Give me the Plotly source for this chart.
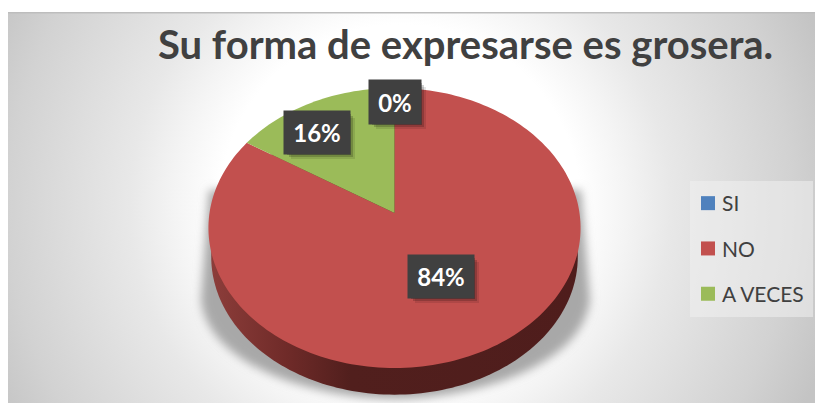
import base64
import numpy as np
import plotly.graph_objects as go

categories = ["SI", "NO", "A VECES"]
values = [0, 84, 16]
colors = ["#4F81BD", "#C2504E", "#9BBB59"]
title_text = "Su forma de expresarse es grosera."

W, H = 815, 403
CX, CY = 394.5, 213
K, A, C = 0.107, 138.4, 185
DEPTH = 29


def project(theta, r=1.0, scale=1.0, dy=0.0):
    u, v = r * np.sin(theta), r * np.cos(theta)
    d = 1 + K * v
    return CX + scale * C * u / d, CY - scale * A * v / d + dy


bg_svg = f'''<svg xmlns="http://www.w3.org/2000/svg" width="{W}" height="{H}" viewBox="0 0 {W} {H}">
<defs>
<radialGradient id="g" gradientUnits="userSpaceOnUse" cx="400" cy="205" r="451">
<stop offset="0" stop-color="#ffffff"/><stop offset="0.40" stop-color="#ffffff"/>
<stop offset="0.50" stop-color="#f4f4f4"/><stop offset="0.60" stop-color="#e8e8e8"/>
<stop offset="0.87" stop-color="#d2d2d2"/><stop offset="1" stop-color="#c4c4c4"/>
</radialGradient>
<filter id="b" filterUnits="userSpaceOnUse" x="0" y="0" width="{W}" height="{H}"><feGaussianBlur stdDeviation="5"/></filter>
</defs>
<rect width="{W}" height="{H}" fill="#ffffff"/>
<rect x="8" y="12" width="807" height="391" fill="url(#g)"/>
<rect x="8" y="12" width="807" height="1.5" fill="#bdbdbd"/>
<path d="M209 190 L201 300 C208 368 320 399 394 399 C470 399 582 368 590 300 L581 190 Z" fill="#a8a8a8" filter="url(#b)"/>
</svg>'''
bg_uri = "data:image/svg+xml;base64," + base64.b64encode(bg_svg.encode()).decode()

fig = go.Figure()

full = np.linspace(0, 2 * np.pi, 241)
wx, wy = project(full, scale=0.985, dy=DEPTH)
fig.add_trace(go.Scatter(
    x=wx, y=wy, mode="none", fill="toself", hoverinfo="skip", showlegend=False,
    fillgradient=dict(type="horizontal", start=212, stop=577,
                      colorscale=[[0, "#8C3D3A"], [0.2, "#702B29"], [0.38, "#511F1D"], [1, "#4F1D1C"]]),
))

start = 0.0
total = sum(values)
for name, val, col in zip(categories, values, colors):
    frac = val / total
    if val > 0:
        t = np.linspace(start, start + frac * 2 * np.pi, max(3, int(240 * frac)))
        px, py = project(t)
        ax, ay = project(0.0, r=0.0)
        fig.add_trace(go.Scatter(
            x=np.r_[ax, px, ax], y=np.r_[ay, py, ay], mode="none", fill="toself",
            fillcolor=col, hoverinfo="skip", showlegend=False,
        ))
    start += frac * 2 * np.pi

for i, (name, col) in enumerate(zip(categories, colors)):
    fig.add_trace(go.Scatter(
        x=[None], y=[None], mode="markers", name=name, legendgroup=name,
        marker=dict(symbol="square", size=14, color=col),
    ))

labels = [
    (categories[0], values[0], 395, 102, 50, 42),
    (categories[2], values[2], 317, 132.5, 64, 41),
    (categories[1], values[1], 441, 276.5, 64, 41),
]
shapes = [dict(type="rect", layer="above", xref="x", yref="y", x0=690, x1=813, y0=181, y1=317,
               line_width=0, fillcolor="rgba(240,240,240,0.55)")]
for _, _, lx, ly, bw, bh in labels:
    for off, alpha in ((6, 0.10), (4, 0.18), (2, 0.25)):
        shapes.append(dict(type="rect", layer="above", xref="x", yref="y",
                           x0=lx - bw / 2 + off, x1=lx + bw / 2 + off,
                           y0=ly - bh / 2 + off, y1=ly + bh / 2 + off,
                           line_width=0, fillcolor=f"rgba(0,0,0,{alpha})"))

annotations = [dict(
    x=lx, y=ly, xref="x", yref="y", text=f"<b>{val}%</b>", showarrow=False,
    width=bw, height=bh, bgcolor="#404040", align="center", valign="middle",
    font=dict(family="Lato", size=24, color="#ffffff"),
) for _, val, lx, ly, bw, bh in labels]
annotations.append(dict(
    x=465.5, y=44, xref="x", yref="y", text=f"<b>{title_text}</b>", showarrow=False,
    font=dict(family="Lato", size=40, color="#404040"),
))

fig.update_layout(
    width=W, height=H, margin=dict(l=0, r=0, t=0, b=0),
    paper_bgcolor="#ffffff", plot_bgcolor="rgba(0,0,0,0)",
    xaxis=dict(range=[0, W], visible=False, fixedrange=True),
    yaxis=dict(range=[H, 0], visible=False, fixedrange=True),
    images=[dict(source=bg_uri, xref="paper", yref="paper", x=0, y=1, sizex=1, sizey=1,
                 sizing="stretch", xanchor="left", yanchor="top", layer="below")],
    shapes=shapes, annotations=annotations,
    showlegend=True,
    legend=dict(x=682 / W, y=1 - 183 / H, xanchor="left", yanchor="top", bgcolor="rgba(0,0,0,0)",
                font=dict(family="Lato", size=21, color="#404040"), tracegroupgap=15,
                itemclick=False, itemdoubleclick=False),
)

post = """
document.documentElement.style.overflow='hidden';
document.body.style.margin='0';
document.querySelectorAll('.legendsymbols').forEach(function(e){e.setAttribute('transform','translate(6,0)');});
"""
fig.write_html("out.html", config={"displayModeBar": False}, post_script=post)
